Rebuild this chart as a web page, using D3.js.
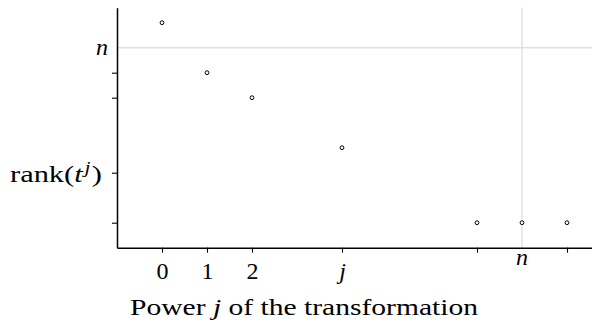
<!DOCTYPE html>
<html>
<head>
<meta charset="utf-8">
<script src="https://cdn.jsdelivr.net/npm/d3@7/dist/d3.min.js"></script>
<style>
  html, body { margin: 0; padding: 0; background: #fff; }
  svg { display: block; }
  text { font-family: "Liberation Serif", "Times New Roman", serif; fill: #000; }
</style>
</head>
<body>
<svg id="chart" width="592" height="322"></svg>
<script>
// Power j of the transformation and the rank of t^j
const powers = [0, 1, 2, 4, 7, 8, 9];
const ranks  = [9, 7, 6, 4, 1, 1, 1];

// x axis ticks (j = 4, n = 8)
const xTicks      = [0, 1, 2, 4, 7, 9];
const xTickLabels = ["0", "1", "2", "j", "", ""];

// y axis ticks
const yTicks      = [1, 3, 6, 7];
const yTickLabels = ["", "rank", "", ""];

// reference level n on both axes
const nValue = 8;
const nLabel = "n";
const xTitle = ["Power ", "j", " of the transformation"];

const W = 592, H = 322;
const svg = d3.select("#chart");

const x = d3.scaleLinear().domain([-1, 9.6]).range([117, 594]);
const y = d3.scaleLinear().domain([0, 9.6]).range([247.7, 7.7]);

// reference gridlines
svg.append("line")
  .attr("x1", x(-1)).attr("x2", W)
  .attr("y1", y(nValue)).attr("y2", y(nValue))
  .attr("stroke", "#e0e0e0").attr("stroke-width", 1.4);
svg.append("line")
  .attr("x1", x(nValue)).attr("x2", x(nValue))
  .attr("y1", y(9.6)).attr("y2", y(0))
  .attr("stroke", "#e0e0e0").attr("stroke-width", 1.4);

// axes
const xAxis = d3.axisBottom(x).tickValues(xTicks).tickSize(5).tickSizeOuter(0)
  .tickFormat((d, i) => xTickLabels[i]);
const gx = svg.append("g").attr("transform", `translate(0,${y(0)})`).call(xAxis);

const yAxis = d3.axisLeft(y).tickValues(yTicks).tickSize(5).tickSizeOuter(0)
  .tickFormat((d, i) => yTickLabels[i]);
const gy = svg.append("g").attr("transform", `translate(${x(-1)},0)`).call(yAxis);

[gx, gy].forEach(g => {
  g.select(".domain").attr("stroke", "#000").attr("stroke-width", 1.5);
  g.selectAll(".tick line").attr("stroke", "#000").attr("stroke-width", 1.1);
});

gx.selectAll(".tick text")
  .attr("font-size", 24)
  .attr("y", 0).attr("dy", 31)
  .attr("font-style", (d, i) => xTickLabels[i] === "j" ? "italic" : "normal");

// y tick label: rank(t^j)
gy.selectAll(".tick text").each(function(d, i) {
  const t = d3.select(this);
  t.attr("font-size", 24).attr("x", -15).attr("dy", 9);
  if (yTickLabels[i] === "rank") {
    t.text("");
    t.attr("textLength", 92).attr("lengthAdjust", "spacingAndGlyphs");
    t.append("tspan").text("rank(");
    t.append("tspan").attr("font-style", "italic").text("t");
    t.append("tspan").attr("font-style", "italic").attr("font-size", 17)
      .attr("dx", 1.5).attr("dy", -9).text("j");
    t.append("tspan").attr("dx", 1).attr("dy", 9).text(")");
  }
});

// n labels at the reference lines
svg.append("text")
  .attr("x", x(nValue)).attr("y", y(0) + 17)
  .attr("text-anchor", "middle").attr("font-size", 24).attr("font-style", "italic")
  .text(nLabel);
svg.append("text")
  .attr("x", x(-1) - 9).attr("y", y(nValue) + 7)
  .attr("text-anchor", "end").attr("font-size", 24).attr("font-style", "italic")
  .text(nLabel);

// axis title
const title = svg.append("text")
  .attr("x", 130).attr("y", 315)
  .attr("font-size", 24)
  .attr("textLength", 348).attr("lengthAdjust", "spacingAndGlyphs");
title.append("tspan").text(xTitle[0]);
title.append("tspan").attr("font-style", "italic").text(xTitle[1]);
title.append("tspan").text(xTitle[2]);

// points
svg.append("g").selectAll("circle")
  .data(powers.map((p, i) => ({ p, r: ranks[i] })))
  .join("circle")
  .attr("cx", d => x(d.p))
  .attr("cy", d => y(d.r))
  .attr("r", 1.9)
  .attr("fill", "#fff")
  .attr("stroke", "#000")
  .attr("stroke-width", 1);
</script>
</body>
</html>
